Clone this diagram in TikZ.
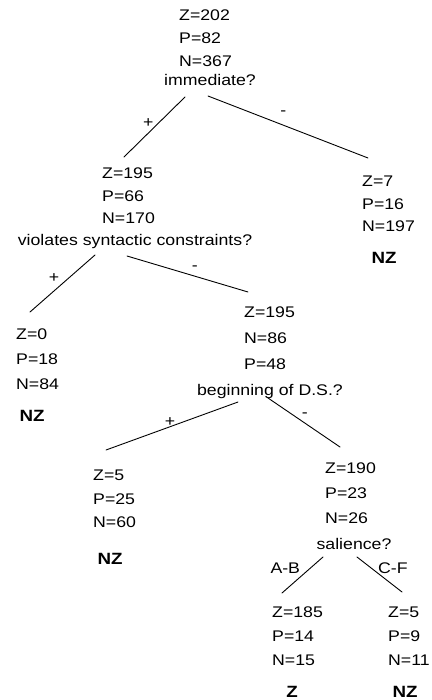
\documentclass[tikz,border=0pt]{standalone}
\usepackage{fontspec}
\setmainfont{Liberation Sans}[FakeStretch=1.15]
\begin{document}
\begin{tikzpicture}[x=1pt,y=-1pt,
  stat/.style={anchor=north west, inner sep=0pt, align=left, font=\fontsize{15.4}{#1}\selectfont},
  quest/.style={anchor=base, inner sep=0pt, font=\fontsize{15.4}{18}\selectfont},
  leaf/.style={anchor=base, inner sep=0pt, font=\fontsize{16.3}{18}\selectfont\bfseries},
  lbl/.style={inner sep=0pt, font=\fontsize{15.4}{18}\selectfont},
  edge/.style={line width=0.9pt, line cap=round}]
\useasboundingbox (0,0) rectangle (431,700);
% level 0
\node[stat=22.75] (r) at (179,10) {Z=202\\P=82\\N=367};
\node[quest] (q1) at (210,85.5) {immediate?};
% level 1
\node[stat=22.5] (A) at (102,168) {Z=195\\P=66\\N=170};
\node[quest] (q2) at (135,245) {violates syntactic constraints?};
\node[stat=22.5] (B) at (362,176) {Z=7\\P=16\\N=197};
\node[leaf] (Bl) at (384,263) {NZ};
% level 2
\node[stat=25] (C) at (16,329) {Z=0\\P=18\\N=84};
\node[leaf] (Cl) at (32,421) {NZ};
\node[stat=26] (D) at (244,307) {Z=195\\N=86\\P=48};
\node[quest] (q3) at (270,395) {beginning of D.S.?};
% level 3
\node[stat=23.5] (E) at (93,470) {Z=5\\P=25\\N=60};
\node[leaf] (El) at (110,564) {NZ};
\node[stat=25] (F) at (325,463) {Z=190\\P=23\\N=26};
\node[quest] (q4) at (354,549) {salience?};
% level 4
\node[stat=23.6] (G) at (272,607) {Z=185\\P=14\\N=15};
\node[leaf] (Gl) at (292,697) {Z};
\node[stat=23.6] (H) at (388,607) {Z=5\\P=9\\N=11};
\node[leaf] (Hl) at (405,697) {NZ};
% edges
\draw[edge] ([shift={(-25,11.5)}]q1.base) -- node[lbl, pos=0.43, xshift=-10.6pt] (l1) {+} ([shift={(22,-11)}]A.north west);
\draw[edge] ([shift={(-2,10.5)}]q1.base) -- node[lbl, pos=0.47, yshift=12pt] (l2) {-} ([shift={(6,-18)}]B.north west);
\draw[edge] ([shift={(-40,10)}]q2.base) -- node[lbl, pos=0.4, xshift=-15pt] (l3) {+} ([shift={(14,-17)}]C.north west);
\draw[edge] ([shift={(-8,11)}]q2.base) -- node[lbl, pos=0.56, yshift=8pt] (l4) {-} ([shift={(4,-15)}]D.north west);
\draw[edge] ([shift={(-32,7)}]q3.base) -- node[lbl, pos=0.515, yshift=4.7pt] (l5) {+} ([shift={(13,-20)}]E.north west);
\draw[edge] ([shift={(-2,3)}]q3.base) -- node[lbl, pos=0.51, yshift=8pt] (l6) {-} ([shift={(15,-16)}]F.north west);
\draw[edge] ([shift={(-31,8)}]q4.base) -- node[lbl, pos=0.31, xshift=-25pt] (l7) {A-B} ([shift={(10,-14)}]G.north west);
\draw[edge] ([shift={(3,8)}]q4.base) -- node[lbl, pos=0.31, xshift=22pt] (l8) {C-F} ([shift={(14,-15)}]H.north west);
\end{tikzpicture}
\end{document}
